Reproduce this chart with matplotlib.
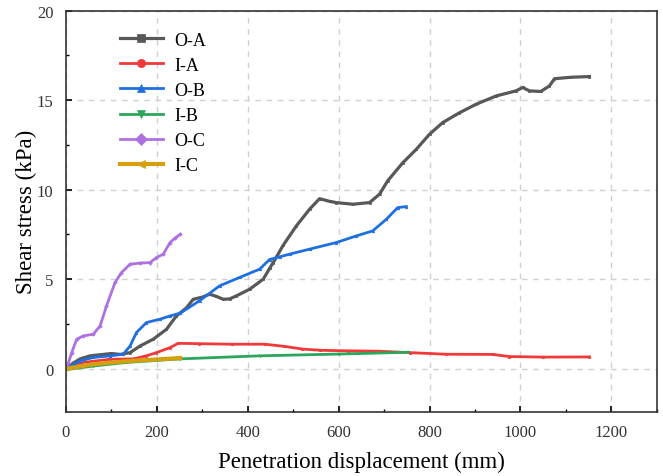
import matplotlib
matplotlib.use("Agg")
import matplotlib.pyplot as plt
from matplotlib.ticker import MultipleLocator

plt.rcParams['font.family'] = ['Liberation Serif', 'DejaVu Serif']

# O-A
oa_x = [0, 15, 31, 53, 82, 100, 119, 141, 163, 192, 221, 243, 265, 280, 300, 316, 330, 346, 360, 375,
        404, 434, 448, 456, 478, 507, 536, 558, 580, 595, 631, 668, 690, 708, 741, 771, 800, 829, 866,
        903, 947, 990, 1005, 1020, 1045, 1064, 1075, 1110, 1152]
oa_y = [0, 0.3, 0.55, 0.72, 0.8, 0.85, 0.8, 0.9, 1.27, 1.65, 2.2, 2.95, 3.4, 3.88, 4.0, 4.16, 4.05, 3.88, 3.9, 4.07,
        4.44, 5.0, 5.6, 5.93, 6.9, 7.98, 8.91, 9.5, 9.35, 9.28, 9.19, 9.28, 9.75, 10.5, 11.5, 12.26, 13.1, 13.75, 14.3,
        14.78, 15.24, 15.52, 15.71, 15.52, 15.49, 15.8, 16.2, 16.28, 16.32]
# I-A
ia_x = [0, 31, 97, 148, 177, 199, 229, 247, 292, 365, 438, 480, 520, 560, 620, 690, 756, 837, 939, 976, 1050, 1152]
ia_y = [0, 0.33, 0.53, 0.55, 0.72, 0.9, 1.18, 1.42, 1.4, 1.37, 1.37, 1.25, 1.1, 1.03, 1.0, 0.98, 0.9, 0.81, 0.8, 0.68, 0.65, 0.66]
# O-B
ob_x = [0, 31, 60, 97, 126, 141, 155, 177, 207, 229, 251, 294, 338, 382, 426, 448, 470, 492, 536, 595, 639, 675, 705, 730, 749]
ob_y = [0, 0.44, 0.63, 0.72, 0.81, 1.27, 2.02, 2.58, 2.77, 2.95, 3.1, 3.8, 4.63, 5.1, 5.56, 6.1, 6.25, 6.4, 6.68, 7.05, 7.42, 7.7, 8.35, 9.0, 9.06]
# I-B
ib_x = [0, 60, 133, 251, 426, 600, 752]
ib_y = [-0.05, 0.15, 0.35, 0.55, 0.72, 0.82, 0.92]
# O-C
oc_x = [0, 5, 12.5, 23.5, 38, 60, 75, 89, 108, 122, 141, 163, 185, 199, 214, 229, 240, 251]
oc_y = [0, 0.3, 0.9, 1.65, 1.83, 1.93, 2.39, 3.5, 4.82, 5.37, 5.84, 5.9, 5.93, 6.21, 6.4, 7.05, 7.3, 7.5]
# I-C
ic_x = [0, 60, 133, 200, 251]
ic_y = [0, 0.25, 0.42, 0.52, 0.6]

series = [
    ("O-A", oa_x, oa_y, '#585858', 's'),
    ("I-A", ia_x, ia_y, '#f03a3a', 'o'),
    ("O-B", ob_x, ob_y, '#1f6fe0', '^'),
    ("I-B", ib_x, ib_y, '#2aa75a', 'v'),
    ("O-C", oc_x, oc_y, '#ad72e0', 'D'),
    ("I-C", ic_x, ic_y, '#d4a010', '<'),
]

fig = plt.figure(figsize=(6.63, 4.77), dpi=100)
ax = fig.add_axes([66/663, 1-412.7/477, (656.7-66)/663, (412.7-11.7)/477])

for label, xs, ys, c, m in series:
    lw = {"I-C": 3.0, "O-A": 2.3}.get(label, 2.0)
    ax.plot(xs, ys, color=c, lw=lw, marker=m, markersize=1.8, markeredgewidth=0.5, label=label)

ax.set_xlim(0, 1300)
ax.set_ylim(-2.4, 20)
ax.xaxis.set_major_locator(MultipleLocator(200))
ax.xaxis.set_minor_locator(MultipleLocator(100))
ax.yaxis.set_major_locator(MultipleLocator(5))
ax.yaxis.set_minor_locator(MultipleLocator(2.5))
ax.tick_params(which='both', direction='in', top=False, right=False, labelsize=12, colors='black')
ax.tick_params(which='major', length=4, width=1.2, pad=9)
ax.tick_params(which='minor', length=2.5, width=1.0)
for lab in ax.get_xticklabels() + ax.get_yticklabels():
    lab.set_color('#333333')
for s in ax.spines.values():
    s.set_linewidth(1.2)
    s.set_color('#333333')
ax.grid(True, which='major', color='#d0d0d0', linestyle=(0, (4, 4)), linewidth=1.0)
ax.set_axisbelow(True)

ax.set_xlabel("Penetration displacement (mm)", fontsize=16.5, labelpad=8)
ax.set_ylabel("Shear stress (kPa)", fontsize=16.5, labelpad=0)

leg = ax.legend(loc='upper left', bbox_to_anchor=(0.091, 0.948), frameon=False, fontsize=13,
                borderpad=0, borderaxespad=0, handlelength=2.4, handletextpad=0.6,
                labelspacing=0.45, markerscale=3.3)

fig.savefig("out.png", dpi=100)
